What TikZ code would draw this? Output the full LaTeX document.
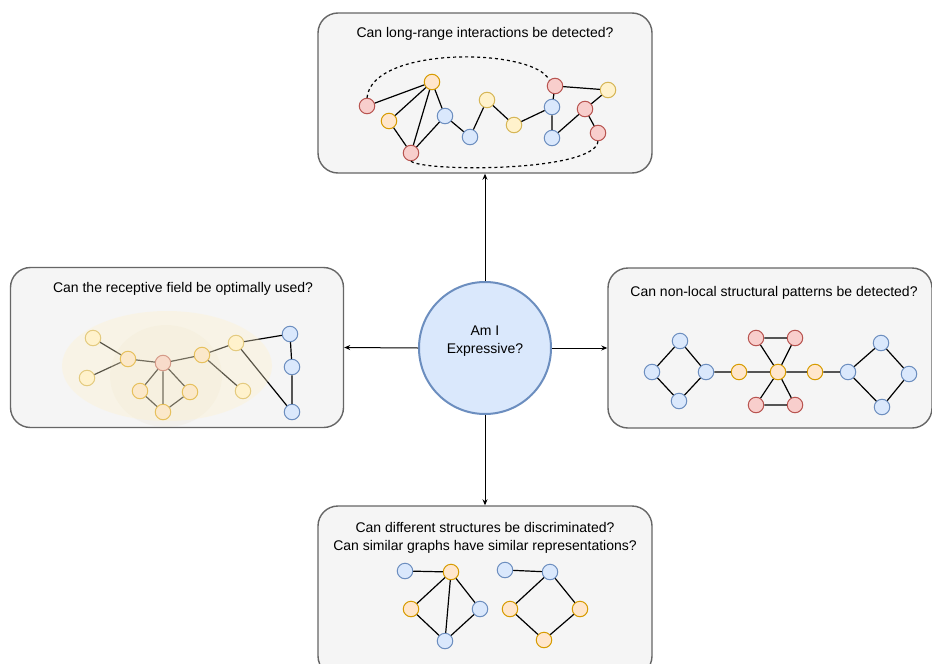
\documentclass[tikz,border=0pt]{standalone}
\usepackage{fontspec}
\setmainfont{Liberation Sans}
\usetikzlibrary{arrows.meta}
\definecolor{bluef}{HTML}{DAE8FC}\definecolor{blued}{HTML}{6C8EBF}
\definecolor{yelf}{HTML}{FFF2CC}\definecolor{yeld}{HTML}{D6B656}
\definecolor{oraf}{HTML}{FFE6CC}\definecolor{orad}{HTML}{D79B00}
\definecolor{redf}{HTML}{F8CECC}\definecolor{redd}{HTML}{B85450}
\definecolor{boxf}{HTML}{F5F5F5}\definecolor{boxd}{HTML}{666666}
\definecolor{innerf}{HTML}{E8DCC4}
\tikzset{
  pnode/.style={circle,minimum size=15.5pt,inner sep=0pt,line width=1pt},
  bn/.style={pnode,fill=bluef,draw=blued},
  yn/.style={pnode,fill=yelf,draw=yeld},
  on/.style={pnode,fill=oraf,draw=orad},
  rn/.style={pnode,fill=redf,draw=redd},
  qbox/.style={draw=boxd,fill=boxf,rounded corners=20pt,line width=1.4pt},
  ttl/.style={font=\fontsize{14pt}{18pt}\selectfont,align=center,inner sep=0pt},
  edge/.style={line width=1.2pt,black},
  arr/.style={line width=1pt,-{Stealth[length=6pt,width=5pt]}},
}
\begin{document}
\begin{tikzpicture}[x=1pt,y=-1pt]
\useasboundingbox (0,0) rectangle (932,664);
\clip (0,0) rectangle (932,664);
\fill[white] (0,0) rectangle (932,664);
% boxes
\node[qbox,minimum width=334pt,minimum height=160pt] (tbox) at (485,93) {};
\node[qbox,minimum width=333pt,minimum height=160pt] (lbox) at (177,347.5) {};
\node[qbox,minimum width=324pt,minimum height=160pt] (rbox) at (770,348) {};
\node[qbox,minimum width=334pt,minimum height=170pt] (bbox) at (485,591) {};
% center
\node[circle,minimum size=132pt,inner sep=0pt,fill=bluef,draw=blued,line width=2pt] (ctr) at (485,348) {};
\node[ttl] (ctrtxt) at (485,341) {Am I\\Expressive?};
% arrows
\draw[arr] (ctr.north) -- (tbox.south);
\draw[arr] (ctr.west) -- (lbox.east);
\draw[arr] (ctr.east) -- (rbox.west);
\draw[arr] (ctr.south) -- (bbox.north);
% titles
\node[ttl] (t1) at (485,34) {Can long-range interactions be detected?};
\node[ttl] (t2) at (183,289) {Can the receptive field be optimally used?};
\node[ttl] (t3) at (774,293) {Can non-local structural patterns be detected?};
\node[ttl] (t4) at (485,538) {Can different structures be discriminated?\\Can similar graphs have similar representations?};
% ---- top graph
\node[rn] (a1) at (367,106) {};
\node[on] (a2) at (432,82) {};
\node[on] (a3) at (389,121) {};
\node[rn] (a4) at (411,153) {};
\node[bn] (a5) at (445,116) {};
\node[bn] (a6) at (470,137) {};
\node[yn] (a7) at (487,100) {};
\node[yn] (a8) at (514,125) {};
\node[bn] (a9) at (552,107) {};
\node[rn] (a10) at (555,86) {};
\node[yn] (a11) at (608,90) {};
\node[rn] (a12) at (585,109) {};
\node[rn] (a13) at (598,133) {};
\node[bn] (a14) at (552,138) {};
\draw[edge] (a1)--(a2) (a2)--(a3) (a2)--(a4) (a2)--(a5) (a3)--(a4) (a4)--(a5)
 (a5)--(a6) (a6)--(a7) (a7)--(a8) (a8)--(a9) (a9)--(a10) (a9)--(a14)
 (a10)--(a11) (a11)--(a12) (a12)--(a13) (a12)--(a14);
\draw[edge,dash pattern=on 3pt off 3pt] (a1.north) .. controls (372,45) and (535,48) .. (a10.north west);
\draw[edge,dash pattern=on 3pt off 3pt] (a4.south) .. controls (425,172) and (595,172) .. (a13.south);
% ---- left graph
\node[yn] (l1) at (93,338) {};
\node[on] (l2) at (128,359) {};
\node[yn] (l3) at (87,378) {};
\node[rn] (l4) at (163,363) {};
\node[on] (l5) at (140,391) {};
\node[on] (l6) at (190,392) {};
\node[on] (l7) at (163,412) {};
\node[on] (l8) at (202,355) {};
\node[yn] (l9) at (236,343) {};
\node[yn] (l10) at (243,391) {};
\node[bn] (l11) at (290,334) {};
\node[bn] (l12) at (292,367) {};
\node[bn] (l13) at (292,412) {};
\draw[edge] (l1)--(l2) (l2)--(l3) (l2)--(l4) (l4)--(l5) (l4)--(l6) (l4)--(l7)
 (l5)--(l7) (l6)--(l7) (l4)--(l8) (l8)--(l9) (l8)--(l10) (l9)--(l11) (l9)--(l13)
 (l11)--(l12) (l12)--(l13);
\fill[innerf,opacity=0.18] (166,376) ellipse (56pt and 51pt);
\fill[yelf,opacity=0.35] (167,366) ellipse (105pt and 55pt);
% ---- right graph
\node[bn] (r1) at (680,341) {};
\node[bn] (r2) at (652,372) {};
\node[bn] (r3) at (679,401) {};
\node[bn] (r4) at (706,372) {};
\node[on] (r5) at (739,372) {};
\node[on] (r6) at (778,372) {};
\node[on] (r7) at (815,372) {};
\node[rn] (r8) at (756,338) {};
\node[rn] (r9) at (795,338) {};
\node[rn] (r10) at (756,405) {};
\node[rn] (r11) at (795,405) {};
\node[bn] (r12) at (848,372) {};
\node[bn] (r13) at (881,343) {};
\node[bn] (r14) at (909,374) {};
\node[bn] (r15) at (882,407) {};
\draw[edge] (r1)--(r2) (r2)--(r3) (r3)--(r4) (r4)--(r1) (r4)--(r5) (r5)--(r6) (r6)--(r7) (r7)--(r12)
 (r8)--(r9) (r9)--(r6) (r6)--(r8) (r10)--(r11) (r11)--(r6) (r6)--(r10)
 (r12)--(r13) (r13)--(r14) (r14)--(r15) (r15)--(r12);
% ---- bottom graphs
\node[bn] (b1) at (405,571) {};
\node[on] (b2) at (451,572) {};
\node[on] (b3) at (411,609) {};
\node[bn] (b4) at (480,609) {};
\node[bn] (b5) at (445,641) {};
\node[bn] (b6) at (505,570) {};
\node[bn] (b7) at (550,572) {};
\node[on] (b8) at (510,609) {};
\node[on] (b9) at (580,609) {};
\node[on] (b10) at (544,640) {};
\draw[edge] (b1)--(b2) (b2)--(b3) (b3)--(b5) (b5)--(b4) (b4)--(b2) (b2)--(b5)
 (b6)--(b7) (b7)--(b8) (b8)--(b10) (b10)--(b9) (b9)--(b7);
\end{tikzpicture}
\end{document}
